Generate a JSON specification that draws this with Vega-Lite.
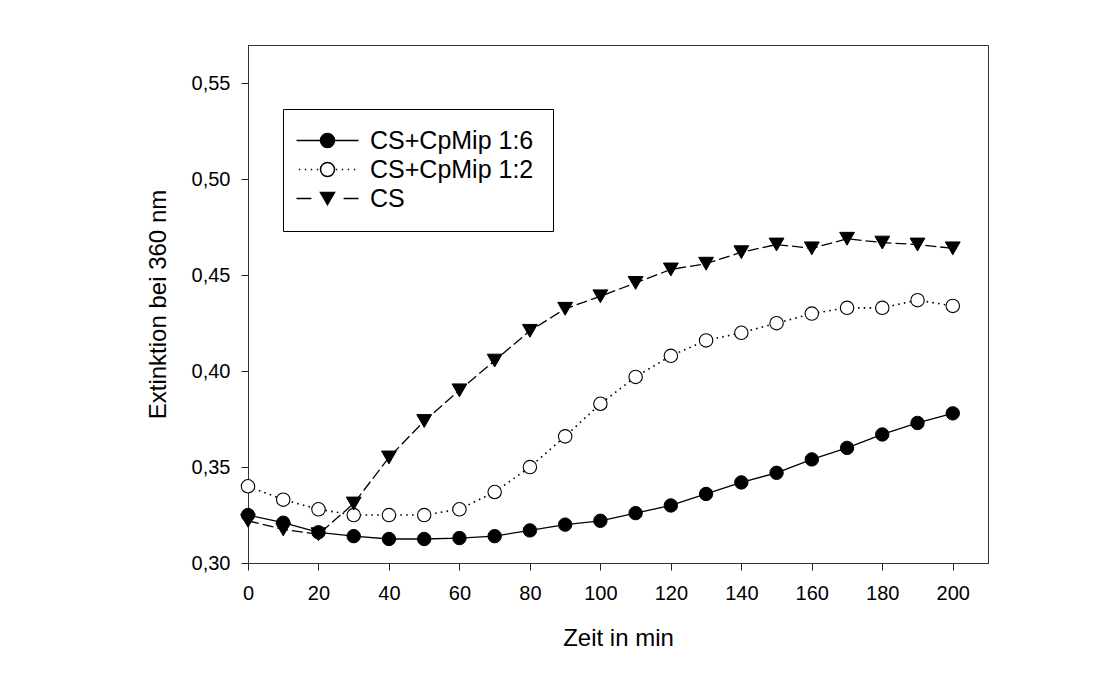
{
  "$schema": "https://vega.github.io/schema/vega-lite/v6.json",
  "autosize": {"type": "none"},
  "padding": {"left": 248, "top": 45, "right": 107, "bottom": 113},
  "width": 740,
  "height": 518,
  "background": "white",
  "config": {
    "font": "Liberation Sans",
    "view": {"stroke": "#333333", "strokeWidth": 1},
    "axis": {
      "labelFont": "Liberation Sans",
      "titleFont": "Liberation Sans",
      "labelFontSize": 20,
      "titleFontSize": 24,
      "titleFontWeight": "normal",
      "labelColor": "black",
      "titleColor": "black",
      "tickColor": "#222222",
      "domainColor": "#333333",
      "tickSize": 7,
      "tickWidth": 1,
      "grid": false
    }
  },
  "data": {
    "values": [
      {"t": 0, "s": "CS+CpMip 1:6", "v": 0.325},
      {"t": 10, "s": "CS+CpMip 1:6", "v": 0.321},
      {"t": 20, "s": "CS+CpMip 1:6", "v": 0.316},
      {"t": 30, "s": "CS+CpMip 1:6", "v": 0.314},
      {"t": 40, "s": "CS+CpMip 1:6", "v": 0.3125},
      {"t": 50, "s": "CS+CpMip 1:6", "v": 0.3125},
      {"t": 60, "s": "CS+CpMip 1:6", "v": 0.313},
      {"t": 70, "s": "CS+CpMip 1:6", "v": 0.314},
      {"t": 80, "s": "CS+CpMip 1:6", "v": 0.317},
      {"t": 90, "s": "CS+CpMip 1:6", "v": 0.320},
      {"t": 100, "s": "CS+CpMip 1:6", "v": 0.322},
      {"t": 110, "s": "CS+CpMip 1:6", "v": 0.326},
      {"t": 120, "s": "CS+CpMip 1:6", "v": 0.330},
      {"t": 130, "s": "CS+CpMip 1:6", "v": 0.336},
      {"t": 140, "s": "CS+CpMip 1:6", "v": 0.342},
      {"t": 150, "s": "CS+CpMip 1:6", "v": 0.347},
      {"t": 160, "s": "CS+CpMip 1:6", "v": 0.354},
      {"t": 170, "s": "CS+CpMip 1:6", "v": 0.360},
      {"t": 180, "s": "CS+CpMip 1:6", "v": 0.367},
      {"t": 190, "s": "CS+CpMip 1:6", "v": 0.373},
      {"t": 200, "s": "CS+CpMip 1:6", "v": 0.378},
      {"t": 0, "s": "CS+CpMip 1:2", "v": 0.340},
      {"t": 10, "s": "CS+CpMip 1:2", "v": 0.333},
      {"t": 20, "s": "CS+CpMip 1:2", "v": 0.328},
      {"t": 30, "s": "CS+CpMip 1:2", "v": 0.325},
      {"t": 40, "s": "CS+CpMip 1:2", "v": 0.325},
      {"t": 50, "s": "CS+CpMip 1:2", "v": 0.325},
      {"t": 60, "s": "CS+CpMip 1:2", "v": 0.328},
      {"t": 70, "s": "CS+CpMip 1:2", "v": 0.337},
      {"t": 80, "s": "CS+CpMip 1:2", "v": 0.350},
      {"t": 90, "s": "CS+CpMip 1:2", "v": 0.366},
      {"t": 100, "s": "CS+CpMip 1:2", "v": 0.383},
      {"t": 110, "s": "CS+CpMip 1:2", "v": 0.397},
      {"t": 120, "s": "CS+CpMip 1:2", "v": 0.408},
      {"t": 130, "s": "CS+CpMip 1:2", "v": 0.416},
      {"t": 140, "s": "CS+CpMip 1:2", "v": 0.420},
      {"t": 150, "s": "CS+CpMip 1:2", "v": 0.425},
      {"t": 160, "s": "CS+CpMip 1:2", "v": 0.430},
      {"t": 170, "s": "CS+CpMip 1:2", "v": 0.433},
      {"t": 180, "s": "CS+CpMip 1:2", "v": 0.433},
      {"t": 190, "s": "CS+CpMip 1:2", "v": 0.437},
      {"t": 200, "s": "CS+CpMip 1:2", "v": 0.434},
      {"t": 0, "s": "CS", "v": 0.322},
      {"t": 10, "s": "CS", "v": 0.3175},
      {"t": 20, "s": "CS", "v": 0.315},
      {"t": 30, "s": "CS", "v": 0.331},
      {"t": 40, "s": "CS", "v": 0.355},
      {"t": 50, "s": "CS", "v": 0.374},
      {"t": 60, "s": "CS", "v": 0.390},
      {"t": 70, "s": "CS", "v": 0.4055},
      {"t": 80, "s": "CS", "v": 0.421},
      {"t": 90, "s": "CS", "v": 0.4325},
      {"t": 100, "s": "CS", "v": 0.439},
      {"t": 110, "s": "CS", "v": 0.446},
      {"t": 120, "s": "CS", "v": 0.453},
      {"t": 130, "s": "CS", "v": 0.456},
      {"t": 140, "s": "CS", "v": 0.462},
      {"t": 150, "s": "CS", "v": 0.466},
      {"t": 160, "s": "CS", "v": 0.464},
      {"t": 170, "s": "CS", "v": 0.469},
      {"t": 180, "s": "CS", "v": 0.467},
      {"t": 190, "s": "CS", "v": 0.466},
      {"t": 200, "s": "CS", "v": 0.464}
    ]
  },
  "encoding": {
    "x": {
      "field": "t",
      "type": "quantitative",
      "title": "Zeit in min",
      "scale": {"domain": [0, 210], "nice": false, "zero": false},
      "axis": {"values": [0, 20, 40, 60, 80, 100, 120, 140, 160, 180, 200], "labelPadding": 13, "titlePadding": 23, "labelFlush": false}
    },
    "y": {
      "field": "v",
      "type": "quantitative",
      "title": "Extinktion bei 360 nm",
      "scale": {"domain": [0.30, 0.57], "nice": false, "zero": false},
      "axis": {"values": [0.30, 0.35, 0.40, 0.45, 0.50, 0.55], "labelExpr": "replace(format(datum.value, '.2f'), '.', ',')", "labelPadding": 11, "titlePadding": 21, "labelFlush": false}
    }
  },
  "layer": [
    {
      "transform": [{"filter": "datum.s === 'CS+CpMip 1:6'"}],
      "mark": {"type": "line", "color": "black", "strokeWidth": 1.3}
    },
    {
      "transform": [{"filter": "datum.s === 'CS+CpMip 1:2'"}],
      "mark": {"type": "line", "color": "black", "strokeWidth": 1.6, "strokeDash": [1.6, 4.2]}
    },
    {
      "transform": [{"filter": "datum.s === 'CS'"}],
      "mark": {"type": "line", "color": "black", "strokeWidth": 1.3, "strokeDash": [11, 4]}
    },
    {
      "transform": [{"filter": "datum.s === 'CS+CpMip 1:6'"}],
      "mark": {"type": "point", "shape": "circle", "filled": true, "fill": "black", "stroke": "black", "strokeWidth": 1, "size": 180, "opacity": 1}
    },
    {
      "transform": [{"filter": "datum.s === 'CS+CpMip 1:2'"}],
      "mark": {"type": "point", "shape": "circle", "filled": true, "fill": "white", "stroke": "black", "strokeWidth": 1.1, "size": 180, "opacity": 1}
    },
    {
      "transform": [{"filter": "datum.s === 'CS'"}],
      "mark": {"type": "point", "shape": "triangle-down", "filled": true, "fill": "black", "stroke": "black", "strokeWidth": 1, "size": 220, "opacity": 1}
    },
    {
      "transform": [{"filter": "false"}],
      "mark": {"type": "point", "filled": true, "stroke": "black", "strokeWidth": 1.5, "size": 196, "opacity": 1},
      "encoding": {
        "shape": {
          "field": "s",
          "type": "nominal",
          "scale": {
            "domain": ["CS+CpMip 1:6", "CS+CpMip 1:2", "CS"],
            "range": [
              "M-4.43,0H4.43M1,0A1,1 0 1,1 -1,0A1,1 0 1,1 1,0Z",
              "M-4.1,0H-3.9M-3.24,0H-3.04M-2.39,0H-2.19M-1.53,0H-1.33M1.19,0H1.39M2.04,0H2.24M2.9,0H3.1M3.76,0H3.96M1,0A1,1 0 1,1 -1,0A1,1 0 1,1 1,0Z",
              "M-4.43,0H-2.3M2.3,0H4.43M0,0.866L-1,-0.866L1,-0.866Z"
            ]
          },
          "legend": {
            "title": null,
            "orient": "none",
            "legendX": 35,
            "legendY": 64,
            "strokeColor": "black",
            "fillColor": "white",
            "padding": 19,
            "symbolOffset": 13,
            "symbolSize": 196,
            "labelOffset": 30,
            "labelFont": "Liberation Sans",
            "labelFontSize": 25,
            "labelColor": "black",
            "rowPadding": 3,
            "labelLimit": 400,
            "encode": {"symbols": {"update": {"stroke": {"value": "black"}, "strokeWidth": {"value": 1.5}, "opacity": {"value": 1}}}}
          }
        },
        "fill": {
          "field": "s",
          "type": "nominal",
          "scale": {
            "domain": ["CS+CpMip 1:6", "CS+CpMip 1:2", "CS"],
            "range": ["black", "white", "black"]
          },
          "legend": {
            "title": null,
            "orient": "none",
            "legendX": 35,
            "legendY": 64,
            "strokeColor": "black",
            "fillColor": "white",
            "padding": 19,
            "symbolOffset": 13,
            "symbolSize": 196,
            "labelOffset": 30,
            "labelFont": "Liberation Sans",
            "labelFontSize": 25,
            "labelColor": "black",
            "rowPadding": 3,
            "labelLimit": 400,
            "encode": {"symbols": {"update": {"stroke": {"value": "black"}, "strokeWidth": {"value": 1.5}, "opacity": {"value": 1}}}}
          }
        }
      }
    }
  ]
}
